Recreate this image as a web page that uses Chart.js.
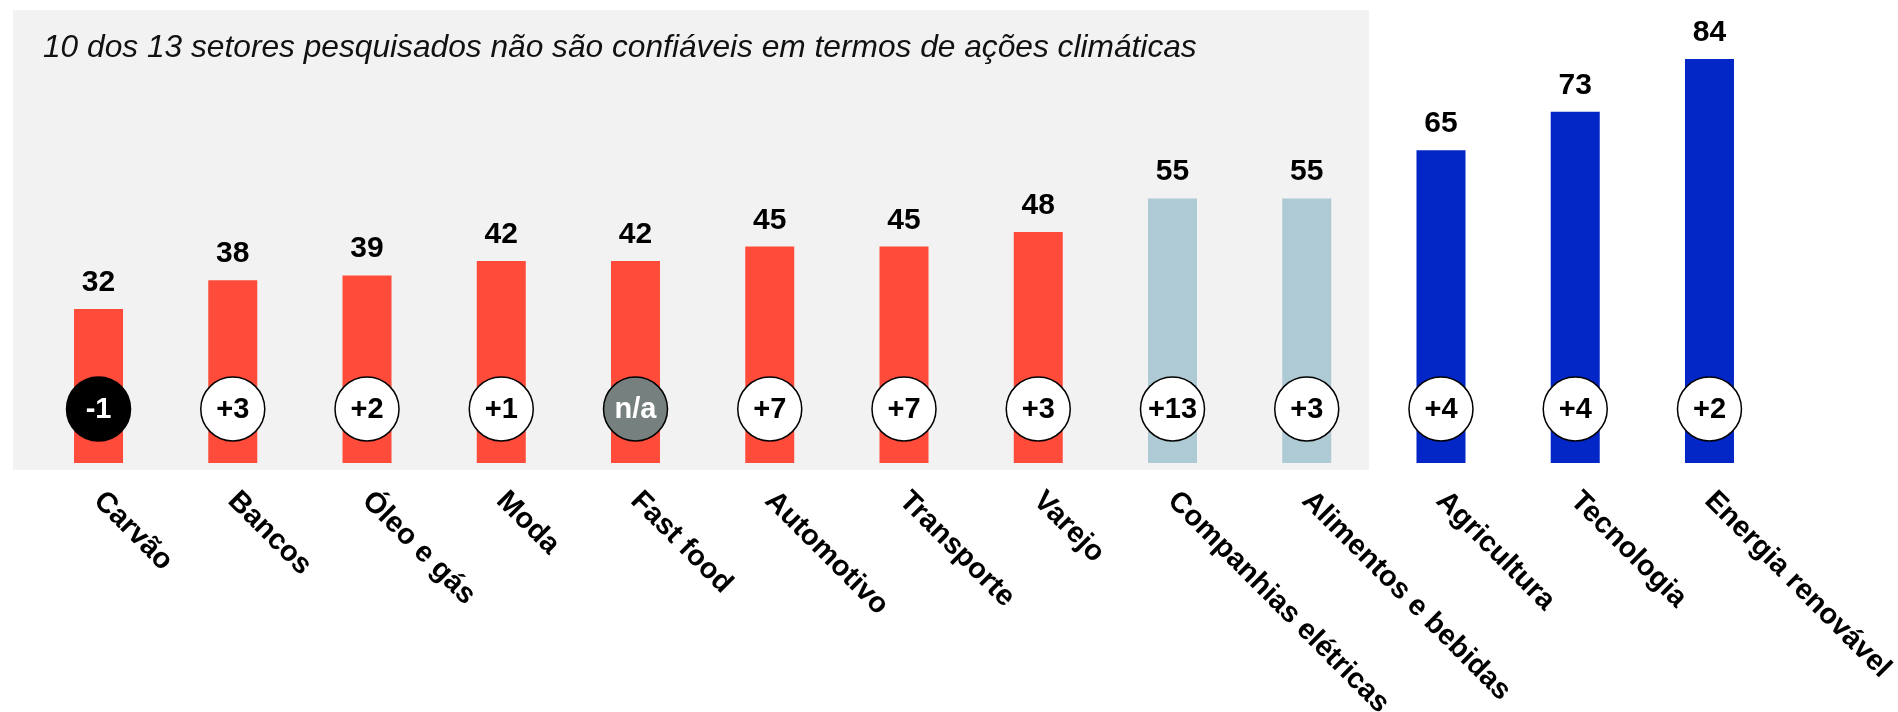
<!DOCTYPE html>
<html>
<head>
<meta charset="utf-8">
<script src="https://cdn.jsdelivr.net/npm/chart.js@4/dist/chart.umd.min.js"></script>
<style>
  html, body { margin: 0; padding: 0; background: #ffffff; }
  #wrap { position: relative; width: 1898px; height: 712px; }
</style>
</head>
<body>
<div id="wrap"><canvas id="c" width="1898" height="712"></canvas></div>
<script>
// ---- data ----
const title = '10 dos 13 setores pesquisados não são confiáveis em termos de ações climáticas';
const categories = ['Carvão', 'Bancos', 'Óleo e gás', 'Moda', 'Fast food', 'Automotivo', 'Transporte', 'Varejo', 'Companhias elétricas', 'Alimentos e bebidas', 'Agricultura', 'Tecnologia', 'Energia renovável'];
const scores = [32, 38, 39, 42, 42, 45, 45, 48, 55, 55, 65, 73, 84];
const changes = ['-1', '+3', '+2', '+1', 'n/a', '+7', '+7', '+3', '+13', '+3', '+4', '+4', '+2'];
const groups = ['low', 'low', 'low', 'low', 'low', 'low', 'low', 'low', 'mid', 'mid', 'high', 'high', 'high'];

// ---- styles ----
const groupColors = { low: '#ff4b39', mid: '#aecad5', high: '#0326c6' };
const FONT = '"Liberation Sans", Arial, Helvetica, sans-serif';

function badgeStyle(txt) {
  if (txt === 'n/a') return { fill: '#76817f', text: '#ffffff' };
  if (txt.charAt(0) === '-') return { fill: '#000000', text: '#ffffff' };
  return { fill: '#ffffff', text: '#000000' };
}

const decor = {
  id: 'decor',
  beforeDraw(chart) {
    const ctx = chart.ctx;
    const xs = chart.scales.x;
    ctx.save();
    ctx.fillStyle = '#f2f2f2';
    const right = xs.getPixelForValue(9.5) - 5;
    ctx.fillRect(13, 10, right - 13, 460);
    ctx.fillStyle = '#111111';
    ctx.font = 'italic 31.7px ' + FONT;
    ctx.textAlign = 'left';
    ctx.textBaseline = 'alphabetic';
    ctx.fillText(title, 43, 57);
    ctx.restore();
  },
  afterDatasetsDraw(chart) {
    const ctx = chart.ctx;
    const xs = chart.scales.x;
    const ys = chart.scales.y;
    const base = ys.getPixelForValue(0);
    ctx.save();
    // value labels
    ctx.font = 'bold 30px ' + FONT;
    ctx.textAlign = 'center';
    ctx.textBaseline = 'alphabetic';
    ctx.fillStyle = '#000000';
    scores.forEach((v, i) => {
      ctx.fillText(String(v), xs.getPixelForValue(i), ys.getPixelForValue(v) - 18);
    });
    // change badges
    changes.forEach((t, i) => {
      const x = xs.getPixelForValue(i);
      const y = base - 54;
      const st = badgeStyle(t);
      ctx.beginPath();
      ctx.arc(x, y, 32, 0, Math.PI * 2);
      ctx.fillStyle = st.fill;
      ctx.fill();
      ctx.lineWidth = 1.5;
      ctx.strokeStyle = '#000000';
      ctx.stroke();
      ctx.fillStyle = st.text;
      ctx.font = 'bold 29px ' + FONT;
      ctx.textAlign = 'center';
      ctx.textBaseline = 'middle';
      ctx.fillText(t, x, y + 1);
    });
    // category labels (rotated, hanging down-right from tick)
    ctx.fillStyle = '#000000';
    ctx.font = 'bold 29px ' + FONT;
    ctx.textAlign = 'left';
    ctx.textBaseline = 'top';
    categories.forEach((c, i) => {
      const x = xs.getPixelForValue(i);
      ctx.save();
      ctx.translate(x + 10, base + 23);
      ctx.rotate(Math.PI / 4);
      ctx.fillText(c, 0, 0);
      ctx.restore();
    });
    ctx.restore();
  }
};

new Chart(document.getElementById('c'), {
  type: 'bar',
  data: {
    labels: categories,
    datasets: [{
      data: scores,
      backgroundColor: groups.map(g => groupColors[g]),
      borderWidth: 0,
      barPercentage: 0.365,
      categoryPercentage: 1.0
    }]
  },
  options: {
    responsive: false,
    animation: false,
    devicePixelRatio: 1,
    layout: { padding: { left: 31.4, right: 121.4, top: 6, bottom: 249 } },
    plugins: { legend: { display: false }, tooltip: { enabled: false }, title: { display: false } },
    scales: {
      x: { display: false },
      y: { display: false, min: 0, max: 95 }
    }
  },
  plugins: [decor]
});
</script>
</body>
</html>
